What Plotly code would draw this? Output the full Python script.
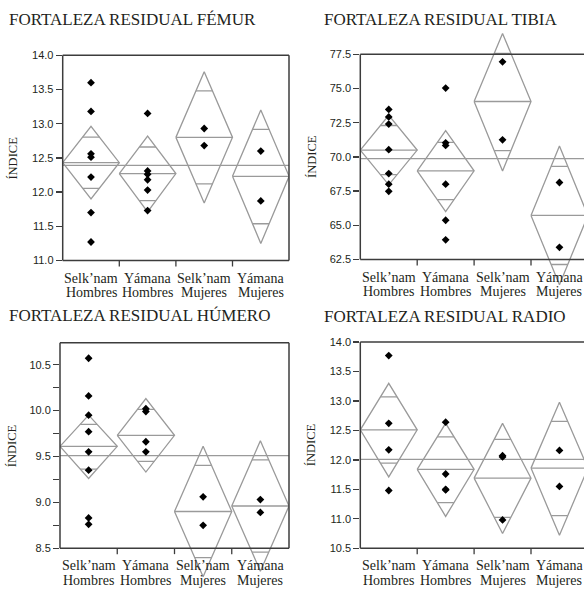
import plotly.graph_objects as go
import math

W, H = 584, 591

# ---------------- data ----------------
cat_line1 = ["Selk\u2019nam", "Y\u00e1mana", "Selk\u2019nam", "Y\u00e1mana"]
cat_line2 = ["Hombres", "Hombres", "Mujeres", "Mujeres"]

titles = ["FORTALEZA RESIDUAL F\u00c9MUR", "FORTALEZA RESIDUAL TIBIA",
          "FORTALEZA RESIDUAL H\u00daMERO", "FORTALEZA RESIDUAL RADIO"]
y_title = "\u00cdNDICE"

# FÉMUR
femur_pts = [[13.60, 13.18, 12.56, 12.51, 12.22, 11.70, 11.27],
             [13.15, 12.31, 12.26, 12.18, 12.03, 11.73],
             [12.93, 12.68],
             [12.60, 11.87]]
femur_mean = [12.43, 12.27, 12.80, 12.23]
femur_upper = [12.96, 12.82, 13.76, 13.20]
femur_lower = [11.90, 11.71, 11.84, 11.25]
femur_grand = 12.39
femur_ticks = [11.0, 11.5, 12.0, 12.5, 13.0, 13.5, 14.0]
femur_ticktext = ["11.0", "11.5", "12.0", "12.5", "13.0", "13.5", "14.0"]

# TIBIA
tibia_pts = [[73.47, 72.92, 72.40, 70.53, 68.78, 68.01, 67.48],
             [75.03, 71.03, 70.84, 68.01, 65.37, 63.94],
             [76.95, 71.25],
             [68.13, 63.39]]
tibia_mean = [70.50, 68.98, 74.05, 65.72]
tibia_upper = [73.04, 71.92, 79.03, 70.79]
tibia_lower = [67.96, 66.00, 68.97, 60.65]
tibia_grand = 69.88
tibia_ticks = [62.5, 65.0, 67.5, 70.0, 72.5, 75.0, 77.5]
tibia_ticktext = ["62.5", "65.0", "67.5", "70.0", "72.5", "75.0", "77.5"]

# HÚMERO
humero_pts = [[10.57, 10.16, 9.95, 9.77, 9.55, 9.35, 8.83, 8.76],
              [10.02, 9.99, 9.66, 9.55],
              [9.06, 8.75],
              [9.03, 8.89]]
humero_mean = [9.61, 9.73, 8.90, 8.96]
humero_upper = [9.95, 10.13, 9.61, 9.67]
humero_lower = [9.26, 9.33, 8.19, 8.25]
humero_grand = 9.51
humero_ticks = [8.5, 8.75, 9.0, 9.25, 9.5, 9.75, 10.0, 10.25, 10.5]
humero_ticktext = ["8.5", "", "9.0", "", "9.5", "", "10.0", "", "10.5"]

# RADIO
radio_pts = [[13.77, 12.62, 12.17, 11.48],
             [12.64, 11.76, 11.50, 11.49],
             [12.07, 12.05, 10.98],
             [12.16, 11.55]]
radio_mean = [12.51, 11.84, 11.69, 11.86]
radio_upper = [13.30, 12.62, 12.62, 12.98]
radio_lower = [11.71, 11.04, 10.75, 10.72]
radio_grand = 12.01
radio_ticks = [10.5, 11.0, 11.5, 12.0, 12.5, 13.0, 13.5, 14.0]
radio_ticktext = ["10.5", "11.0", "11.5", "12.0", "12.5", "13.0", "13.5", "14.0"]

# ---------------- layout geometry (pixels) ----------------
panels = [
    dict(pts=femur_pts, mean=femur_mean, up=femur_upper, lo=femur_lower, grand=femur_grand,
         tv=femur_ticks, tt=femur_ticktext, yr=[11.0, 14.0],
         left=62.7, right=289, top=52, bottom=260, seg=56.6, right_frame=True,
         title_x=7, title_y=16, ytitle_x=12.7),
    dict(pts=tibia_pts, mean=tibia_mean, up=tibia_upper, lo=tibia_lower, grand=tibia_grand,
         tv=tibia_ticks, tt=tibia_ticktext, yr=[62.5, 77.5],
         left=360.3, right=584, top=51, bottom=259, seg=56.9, right_frame=False,
         title_x=322, title_y=16, ytitle_x=312),
    dict(pts=humero_pts, mean=humero_mean, up=humero_upper, lo=humero_lower, grand=humero_grand,
         tv=humero_ticks, tt=humero_ticktext, yr=[8.5, 10.74],
         left=60, right=289, top=343.3, bottom=551.7, seg=57.25, right_frame=True,
         title_x=7, title_y=316, ytitle_x=12.7),
    dict(pts=radio_pts, mean=radio_mean, up=radio_upper, lo=radio_lower, grand=radio_grand,
         tv=radio_ticks, tt=radio_ticktext, yr=[10.5, 14.0],
         left=360.3, right=584, top=342.7, bottom=551.7, seg=56.9, right_frame=False,
         title_x=322, title_y=317, ytitle_x=311),
]

def px(x):
    return x / W

def py(y):
    return 1 - y / H

DIAM_COL = "#9a9a9a"
FRAME_COL = "#3c3c3c"
TEXT_COL = "#231f20"
SERIF = "Liberation Serif"
SANS = "Liberation Sans"

fig = go.Figure()
layout = dict(width=W, height=H, margin=dict(l=0, r=0, t=0, b=0),
              paper_bgcolor="white", plot_bgcolor="rgba(0,0,0,0)", showlegend=False)
annotations = []
shapes = []
k = math.sqrt(2)

for idx, p in enumerate(panels):
    n = idx + 1
    xa = "x" if n == 1 else f"x{n}"
    ya = "y" if n == 1 else f"y{n}"
    xr_end = (p["right"] - p["left"]) / p["seg"]
    y0, y1 = p["yr"]
    s = (p["bottom"] - p["top"]) / (y1 - y0)  # px per unit
    ext1 = max(y1, max(p["up"])) + 2.0 / s
    ext0 = min(y0, min(p["lo"])) - 2.0 / s
    dom_top = p["top"] - (ext1 - y1) * s
    dom_bot = p["bottom"] + (y0 - ext0) * s

    # diamonds
    xs, ys = [], []
    xs += [0, 4, None]
    ys += [p["grand"], p["grand"], None]
    for i in range(4):
        m, u, l = p["mean"][i], p["up"][i], p["lo"][i]
        c = i + 0.5
        xs += [i, c, i + 1, c, i, None]
        ys += [m, u, m, l, m, None]
        xs += [i, i + 1, None]
        ys += [m, m, None]
        ou = m + (u - m) / k
        ol = m - (m - l) / k
        cw = 0.5 * (1 - 1 / k)
        xs += [c - cw, c + cw, None, c - cw, c + cw, None]
        ys += [ou, ou, None, ol, ol, None]
    fig.add_trace(go.Scatter(x=xs, y=ys, mode="lines", xaxis=xa, yaxis=ya,
                             line=dict(color=DIAM_COL, width=1.3), hoverinfo="skip"))
    # points
    mx, my = [], []
    for i in range(4):
        for v in p["pts"][i]:
            mx.append(i + 0.5)
            my.append(v)
    fig.add_trace(go.Scatter(x=mx, y=my, mode="markers", xaxis=xa, yaxis=ya,
                             marker=dict(symbol="diamond", size=6, color="black")))

    xkey = "xaxis" if n == 1 else f"xaxis{n}"
    ykey = "yaxis" if n == 1 else f"yaxis{n}"
    layout[xkey] = dict(domain=[px(p["left"]), px(p["right"])], range=[0, xr_end],
                        anchor=ya, showgrid=False, zeroline=False, showline=False,
                        ticks="", showticklabels=False, fixedrange=True)
    layout[ykey] = dict(domain=[py(dom_bot), py(dom_top)], range=[ext0, ext1],
                        anchor=xa, showgrid=False, zeroline=False, showline=False,
                        tickmode="array", tickvals=p["tv"], ticktext=p["tt"],
                        ticks="outside", ticklen=6, tickwidth=1.3, tickcolor=FRAME_COL,
                        tickfont=dict(family=SANS, size=11, color=TEXT_COL),
                        fixedrange=True)

    # frame (paper coordinates)
    L, R, T, B = px(p["left"]), px(p["right"]), py(p["top"]), py(p["bottom"])
    fl = dict(type="line", xref="paper", yref="paper",
              line=dict(color=FRAME_COL, width=1.5), layer="above")
    shapes.append(dict(fl, x0=L, x1=L, y0=B, y1=T))
    shapes.append(dict(fl, x0=L, x1=min(R, 1.0), y0=B, y1=B))
    shapes.append(dict(fl, x0=L, x1=min(R, 1.0), y0=T, y1=T))
    if p["right_frame"]:
        shapes.append(dict(fl, x0=R, x1=R, y0=B, y1=T))
    # category boundary ticks
    for j in [1, 2, 3]:
        shapes.append(dict(type="line", xref=xa, yref="paper", x0=j, x1=j,
                           y0=B, y1=py(p["bottom"] + 6),
                           line=dict(color=FRAME_COL, width=1.3), layer="above"))

    # title
    annotations.append(dict(text=titles[idx], x=px(p["title_x"]), y=py(p["title_y"]),
                            xref="paper", yref="paper", xanchor="left", yanchor="middle",
                            showarrow=False, font=dict(family=SERIF, size=17, color=TEXT_COL)))
    # y title
    annotations.append(dict(text=y_title, x=px(p["ytitle_x"]),
                            y=py((p["top"] + p["bottom"]) / 2),
                            xref="paper", yref="paper", xanchor="center", yanchor="middle",
                            textangle=-90, showarrow=False,
                            font=dict(family=SERIF, size=12.5, color=TEXT_COL)))
    # category labels
    for i in range(4):
        annotations.append(dict(text=cat_line1[i], x=i + 0.5, y=py(p["bottom"] + 18),
                                xref=xa, yref="paper", xanchor="center", yanchor="middle",
                                showarrow=False,
                                font=dict(family=SERIF, size=14, color=TEXT_COL)))
        annotations.append(dict(text=cat_line2[i], x=i + 0.5, y=py(p["bottom"] + 32.5),
                                xref=xa, yref="paper", xanchor="center", yanchor="middle",
                                showarrow=False,
                                font=dict(family=SERIF, size=14, color=TEXT_COL)))

layout["annotations"] = annotations
layout["shapes"] = shapes
fig.update_layout(**layout)
fig.write_html("out.html",
               config={"displayModeBar": False, "staticPlot": True},
               post_script="document.body.style.margin='0px';document.body.style.overflow='hidden';")
